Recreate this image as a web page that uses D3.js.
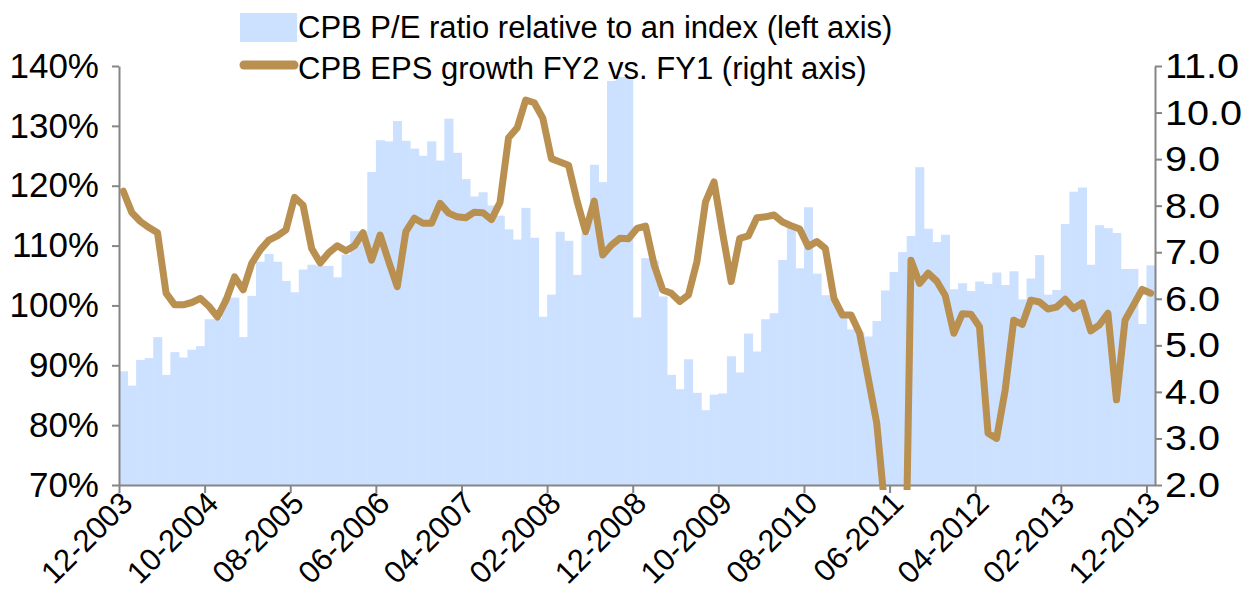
<!DOCTYPE html>
<html>
<head>
<meta charset="utf-8">
<script src="https://cdnjs.cloudflare.com/ajax/libs/d3/7.8.5/d3.min.js"></script>
<style>
body { margin: 0; background: #fff; }
text { font-family: "Liberation Sans", Arial, sans-serif; fill: #000; }
</style>
</head>
<body>
<div id="chart"></div>
<script>
var svgWidth = 1253;
var svgHeight = 608;

var margin = {
    top: 66,
    right: 98,
    bottom: 123,
    left: 119
};

var width = svgWidth - margin.left - margin.right;
var height = svgHeight - margin.top - margin.bottom;

//monthly categories, 12-2003 .. 12-2013
var fmtMonth = d3.timeFormat("%m-%Y");
var months = d3.timeMonth.range(new Date(2003, 11, 1), new Date(2014, 0, 1)).map(fmtMonth);

var tickLabels = ["12-2003", "10-2004", "08-2005", "06-2006", "04-2007", "02-2008", "12-2008",
    "10-2009", "08-2010", "06-2011", "04-2012", "02-2013", "12-2013"];

//CPB P/E ratio relative to an index (%), left axis
var peRatio = [
    89.0, 86.6, 90.9, 91.2, 94.7, 88.4, 92.2, 91.3, 92.6, 93.2,
    97.7, 97.7, 101.3, 101.3, 94.7, 101.6, 107.3, 108.6, 107.3, 104.1,
    102.2, 106.0, 106.8, 106.6, 106.6, 104.7, 108.5, 112.4, 112.4, 122.3,
    127.6, 127.4, 130.8, 127.5, 126.2, 125.0, 127.4, 124.2, 131.2, 125.5,
    121.1, 118.2, 118.9, 116.7, 115.0, 112.7, 111.0, 116.3, 111.3, 98.1,
    101.8, 112.3, 110.8, 105.1, 112.0, 123.5, 120.6, 137.5, 141.5, 141.5,
    98.0, 107.9, 107.5, 101.5, 88.4, 86.0, 91.0, 85.4, 82.5, 85.1,
    85.3, 91.5, 88.8, 95.3, 92.3, 97.7, 98.7, 107.6, 113.1, 106.2,
    116.4, 105.3, 101.7, 101.0, 98.8, 96.0, 95.5, 94.8, 97.4, 102.5,
    105.6, 108.9, 111.6, 123.1, 112.8, 110.6, 111.8, 102.7, 103.7, 102.4,
    104.0, 103.6, 105.5, 103.4, 105.7, 101.0, 104.5, 108.4, 101.8, 102.6,
    113.6, 119.0, 119.7, 106.8, 113.4, 112.9, 112.1, 106.1, 106.1, 96.9,
    106.7
];

//CPB EPS growth FY2 vs. FY1, right axis
var epsGrowth = [
    8.31, 7.85, 7.66, 7.53, 7.42, 6.12, 5.87, 5.87, 5.92, 6.01,
    5.84, 5.61, 5.97, 6.47, 6.19, 6.76, 7.05, 7.26, 7.35, 7.48,
    8.18, 8.01, 7.08, 6.77, 6.99, 7.14, 7.03, 7.14, 7.42, 6.83,
    7.37, 6.80, 6.26, 7.44, 7.73, 7.62, 7.62, 8.05, 7.84, 7.76,
    7.74, 7.86, 7.85, 7.70, 8.07, 9.46, 9.67, 10.27, 10.21, 9.88,
    9.01, 8.94, 8.87, 8.10, 7.44, 8.10, 6.94, 7.15, 7.30, 7.29,
    7.51, 7.56, 6.73, 6.19, 6.12, 5.94, 6.08, 6.80, 8.08, 8.51,
    7.41, 6.37, 7.30, 7.35, 7.74, 7.76, 7.80, 7.65, 7.57, 7.50,
    7.12, 7.23, 7.08, 6.01, 5.65, 5.65, 5.26, 4.30, 3.33, 1.40,
    -2.00, -4.00, 6.83, 6.33, 6.55, 6.38, 6.07, 5.26, 5.68, 5.67,
    5.40, 3.11, 3.00, 4.04, 5.54, 5.45, 5.97, 5.93, 5.78, 5.82,
    5.99, 5.79, 5.91, 5.31, 5.44, 5.69, 3.83, 5.54, 5.87, 6.20,
    6.12
];

var leftTicks = [70, 80, 90, 100, 110, 120, 130, 140];
var rightTicks = [2, 3, 4, 5, 6, 7, 8, 9, 10, 11];

var legendLabels = ["CPB P/E ratio relative to an index (left axis)",
    "CPB EPS growth FY2 vs. FY1 (right axis)"];

var barColor = "#cce0ff";
var lineColor = "#b99050";
var axisColor = "#868686";

var data = months.map(function(m, i) {
    return { month: m, pe: peRatio[i], eps: epsGrowth[i] };
});

var svg = d3.select("#chart")
    .append("svg")
    .attr("width", svgWidth)
    .attr("height", svgHeight);

//title, cut by the top edge as in the source (only the lowest pixels show)
svg.append("text")
    .attr("x", 0)
    .attr("y", -2)
    .style("font-size", "30px")
    .style("font-weight", "bold")
    .style("fill", "#1f3864")
    .text("Exhibit: CPB P/E premium vs. EPS growth");

var chartGroup = svg.append("g")
    .attr("transform", `translate(${margin.left}, ${margin.top})`);

//scales
var x = d3.scaleBand()
    .domain(months)
    .range([0, width])
    .padding(0);

var xIdx = d3.scaleLinear()
    .domain([0, months.length])
    .range([0, width]);

var yLeft = d3.scaleLinear()
    .domain([70, 140])
    .range([height, 0]);

var yRight = d3.scaleLinear()
    .domain([2, 11])
    .range([height, 0]);

//bars
chartGroup.selectAll("rect.pe")
    .data(data)
    .enter()
    .append("rect")
    .attr("class", "pe")
    .attr("x", d => x(d.month))
    .attr("width", x.bandwidth() + 0.5)
    .attr("y", d => yLeft(d.pe))
    .attr("height", d => height - yLeft(d.pe))
    .attr("fill", barColor);

//axes
var leftAxis = d3.axisLeft(yLeft)
    .tickValues(leftTicks)
    .tickSize(7)
    .tickSizeOuter(0)
    .tickPadding(13)
    .tickFormat(d => d + "%");

var rightAxis = d3.axisRight(yRight)
    .tickValues(rightTicks)
    .tickSize(7)
    .tickSizeOuter(0)
    .tickPadding(2)
    .tickFormat(d3.format(".1f"));

var bottomAxis = d3.axisBottom(xIdx)
    .tickValues(tickLabels.map(l => months.indexOf(l)))
    .tickSize(8)
    .tickSizeOuter(0)
    .tickFormat(i => months[i]);

var gLeft = chartGroup.append("g").call(leftAxis);
var gRight = chartGroup.append("g")
    .attr("transform", `translate(${width}, 0)`)
    .call(rightAxis);
var gBottom = chartGroup.append("g")
    .attr("transform", `translate(0, ${height})`)
    .call(bottomAxis);

[gLeft, gRight, gBottom].forEach(function(g) {
    g.select(".domain").attr("stroke", axisColor).attr("stroke-width", 2);
    g.selectAll(".tick line").attr("stroke", axisColor).attr("stroke-width", 2);
    g.selectAll("text").style("font-family", "Liberation Sans, Arial, sans-serif").attr("fill", "#000");
});

gLeft.selectAll("text").style("font-size", "35px");
gRight.selectAll("text")
    .style("font-size", "36px")
    .attr("transform", "scale(1.1, 1)");

gBottom.selectAll("text")
    .style("font-size", "31px")
    .style("text-anchor", "end")
    .attr("x", 0)
    .attr("y", 0)
    .attr("dy", 0)
    .attr("transform", "translate(15, 20) rotate(-45)");

//line, clipped at the plot area
chartGroup.append("clipPath")
    .attr("id", "plotClip")
    .append("rect")
    .attr("x", -5)
    .attr("y", -20)
    .attr("width", width + 10)
    .attr("height", height + 25);

var line = d3.line()
    .x(d => x(d.month) + x.bandwidth() / 2)
    .y(d => yRight(d.eps));

chartGroup.append("path")
    .datum(data)
    .attr("clip-path", "url(#plotClip)")
    .attr("d", line)
    .attr("fill", "none")
    .attr("stroke", lineColor)
    .attr("stroke-width", 7)
    .attr("stroke-linejoin", "round")
    .attr("stroke-linecap", "round");

//legend (white box over the top of the chart)
var legend = svg.append("g");

legend.append("rect")
    .attr("x", 236)
    .attr("y", 0)
    .attr("width", 656)
    .attr("height", 77)
    .attr("fill", "#fff");

legend.append("rect")
    .attr("x", 240)
    .attr("y", 13)
    .attr("width", 57)
    .attr("height", 29)
    .attr("fill", barColor);

legend.append("line")
    .attr("x1", 244)
    .attr("x2", 294)
    .attr("y1", 65)
    .attr("y2", 65)
    .attr("stroke", lineColor)
    .attr("stroke-width", 9)
    .attr("stroke-linecap", "round");

legend.selectAll("text.leg")
    .data(legendLabels)
    .enter()
    .append("text")
    .attr("class", "leg")
    .attr("x", 298)
    .attr("y", (d, i) => 38 + i * 41)
    .style("font-size", "31px")
    .text(d => d);
</script>
</body>
</html>
